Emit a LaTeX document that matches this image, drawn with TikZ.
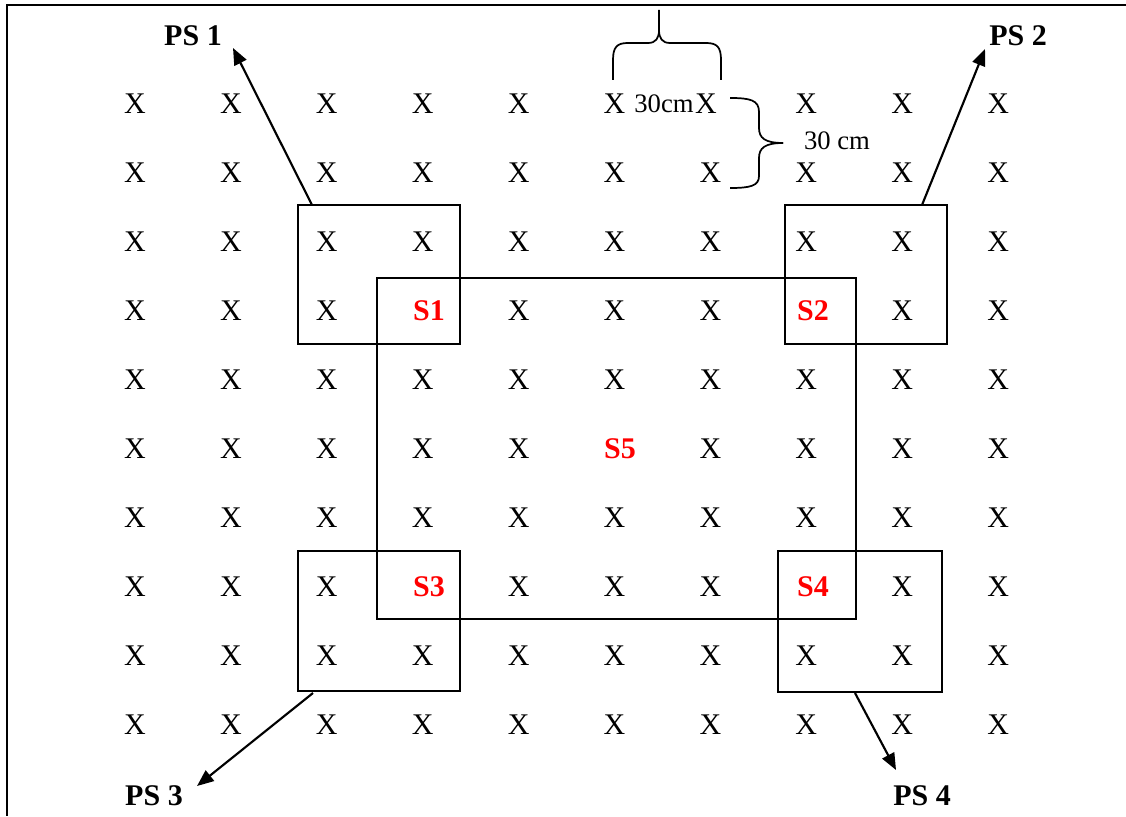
\documentclass[tikz,border=0pt]{standalone}
\usepackage{fontspec}
\setmainfont{Liberation Serif}
\usetikzlibrary{arrows.meta,fit}
\begin{document}
\begin{tikzpicture}[x=0.75pt,y=-0.75pt,
  xmark/.style={font=\fontsize{22.5}{27}\selectfont, inner sep=0pt},
  slabel/.style={font=\fontsize{22.5}{27}\selectfont\bfseries, text=red, inner sep=0pt},
  pslabel/.style={font=\fontsize{22.5}{27}\selectfont\bfseries, inner sep=0pt},
  dimlabel/.style={font=\fontsize{20}{24}\selectfont, inner sep=0pt},
  plotbox/.style={draw, line width=1.4pt, inner sep=0pt},
  arr/.style={line width=1.6pt, -{Triangle[length=12.5pt,width=10pt]}},
  bracesty/.style={line width=1.3pt},
  framesty/.style={line width=1.7pt}]
\useasboundingbox (0,0) rectangle (1126,816);
% frame
\draw[framesty] (1126,5) -- (7,5) -- (7,816);
% grid of X
\foreach \j in {0,...,9}{
  \foreach \i in {0,...,9}{
    \pgfmathtruncatemacro\skipit{((\j==3 || \j==7) && (\i==3 || \i==7)) || (\j==5 && \i==5) || (\j==0 && \i==6) ? 1 : 0}
    \ifnum\skipit=0
      \node[xmark] (x-\i-\j) at ({135+95.9*\i},{104+69*\j}) {X};
    \fi
  }
}
\node[xmark] (x-6-0) at (706,104) {X};
% sample labels
\node[slabel] (s1) at (429,311) {S1};
\node[slabel] (s2) at (813,311) {S2};
\node[slabel] (s3) at (429,587) {S3};
\node[slabel] (s4) at (813,587) {S4};
\node[slabel] (s5) at (620,449) {S5};
% boxes
\coordinate (b1a) at (298,205); \coordinate (b1b) at (460,344);
\coordinate (b2a) at (785,205); \coordinate (b2b) at (947,344);
\coordinate (b3a) at (298,551); \coordinate (b3b) at (460,691);
\coordinate (b4a) at (778,551); \coordinate (b4b) at (942,692);
\coordinate (b5a) at (377,278); \coordinate (b5b) at (856,619);
\node[plotbox, fit=(b1a)(b1b)] (box1) {};
\node[plotbox, fit=(b2a)(b2b)] (box2) {};
\node[plotbox, fit=(b3a)(b3b)] (box3) {};
\node[plotbox, fit=(b4a)(b4b)] (box4) {};
\node[plotbox, fit=(b5a)(b5b)] (box5) {};
% PS labels
\node[pslabel] (ps1) at (193,36) {PS 1};
\node[pslabel] (ps2) at (1018,36) {PS 2};
\node[pslabel] (ps3) at (154,796) {PS 3};
\node[pslabel] (ps4) at (922,796) {PS 4};
% arrow ends
\coordinate (a1) at (312,205); \coordinate (t1) at (233,48);
\coordinate (a2) at (922,205); \coordinate (t2) at (985,49);
\coordinate (a3) at (313,693); \coordinate (t3) at (197,786);
\coordinate (a4) at (855,693); \coordinate (t4) at (896,770);
\draw[arr] (a1) -- (t1);
\draw[arr] (a2) -- (t2);
\draw[arr] (a3) -- (t3);
\draw[arr] (a4) -- (t4);
% dimension labels
\node[dimlabel] (d1) at (664,104) {30cm};
\node[dimlabel] (d2) at (837,141) {30 cm};
% top brace
\draw[bracesty] (613,80) -- (613,60) .. controls (613,47) and (617,43) .. (628,43)
  -- (648,43) .. controls (656,43) and (659,38) .. (659,30) -- (659,10);
\draw[bracesty] (659,30) .. controls (659,38) and (662,43) .. (670,43)
  -- (706,43) .. controls (717,43) and (721,47) .. (721,60) -- (721,80);
% right brace
\draw[bracesty] (730,98) .. controls (750,98) and (759,100) .. (759,112)
  -- (759,128) .. controls (759,138) and (765,143) .. (783,143);
\draw[bracesty] (783,143) .. controls (765,143) and (759,148) .. (759,158)
  -- (759,176) .. controls (759,186) and (750,188) .. (730,188);
\end{tikzpicture}
\end{document}
